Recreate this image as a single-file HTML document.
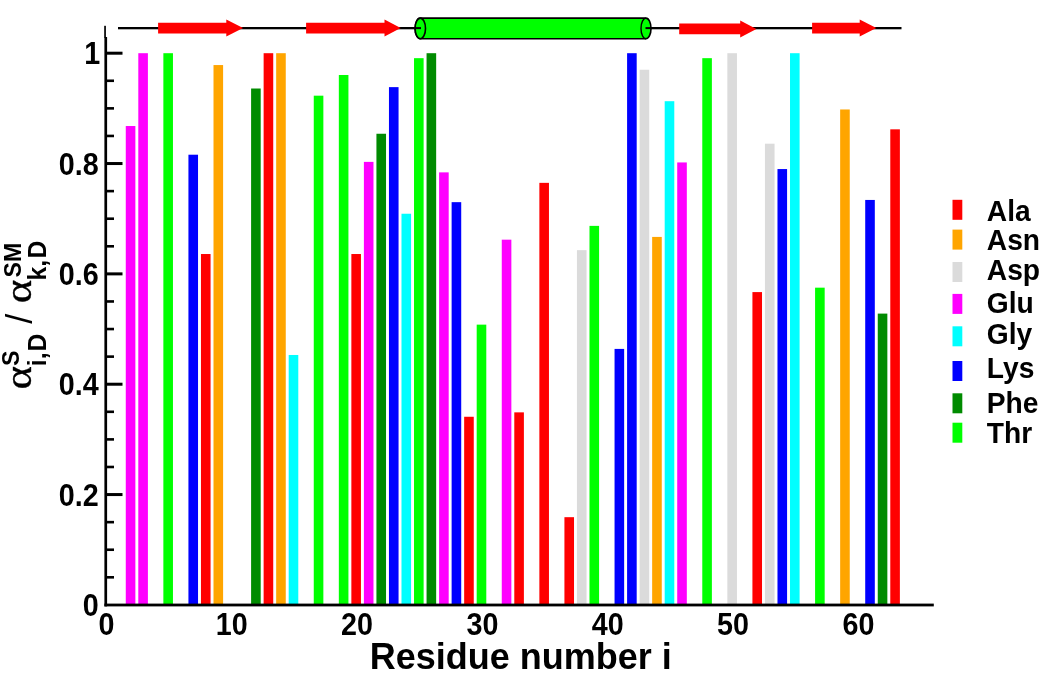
<!DOCTYPE html><html><head><meta charset="utf-8"><title>Residue plot</title>
<style>html,body{margin:0;padding:0;background:#fff}svg{display:block}text{font-family:"Liberation Sans",sans-serif;font-weight:bold;fill:#000}</style></head><body>
<svg width="1049" height="686" viewBox="0 0 1049 686">
<rect width="1049" height="686" fill="#fff"/>
<rect x="125.77" y="126.02" width="9.6" height="478.98" fill="#ff00ff"/>
<rect x="138.30" y="53.20" width="9.6" height="551.80" fill="#ff00ff"/>
<rect x="163.36" y="53.20" width="9.6" height="551.80" fill="#00ff00"/>
<rect x="188.43" y="154.71" width="9.6" height="450.29" fill="#0000ff"/>
<rect x="200.96" y="254.02" width="9.6" height="350.98" fill="#ff0000"/>
<rect x="213.50" y="65.06" width="9.6" height="539.94" fill="#ffa500"/>
<rect x="251.10" y="88.51" width="9.6" height="516.49" fill="#008b00"/>
<rect x="263.63" y="53.20" width="9.6" height="551.80" fill="#ff0000"/>
<rect x="276.16" y="53.20" width="9.6" height="551.80" fill="#ffa500"/>
<rect x="288.69" y="354.98" width="9.6" height="250.02" fill="#00ffff"/>
<rect x="313.76" y="95.68" width="9.6" height="509.32" fill="#00ff00"/>
<rect x="338.83" y="74.99" width="9.6" height="530.01" fill="#00ff00"/>
<rect x="351.36" y="254.02" width="9.6" height="350.98" fill="#ff0000"/>
<rect x="363.89" y="161.88" width="9.6" height="443.12" fill="#ff00ff"/>
<rect x="376.43" y="133.75" width="9.6" height="471.25" fill="#008b00"/>
<rect x="388.96" y="87.13" width="9.6" height="517.87" fill="#0000ff"/>
<rect x="401.49" y="213.74" width="9.6" height="391.26" fill="#00ffff"/>
<rect x="414.02" y="58.17" width="9.6" height="546.83" fill="#00ff00"/>
<rect x="426.56" y="53.20" width="9.6" height="551.80" fill="#008b00"/>
<rect x="439.09" y="172.37" width="9.6" height="432.63" fill="#ff00ff"/>
<rect x="451.62" y="202.16" width="9.6" height="402.84" fill="#0000ff"/>
<rect x="464.16" y="416.77" width="9.6" height="188.23" fill="#ff0000"/>
<rect x="476.69" y="324.64" width="9.6" height="280.36" fill="#00ff00"/>
<rect x="501.76" y="239.67" width="9.6" height="365.33" fill="#ff00ff"/>
<rect x="514.29" y="412.36" width="9.6" height="192.64" fill="#ff0000"/>
<rect x="539.36" y="182.85" width="9.6" height="422.15" fill="#ff0000"/>
<rect x="564.42" y="517.18" width="9.6" height="87.82" fill="#ff0000"/>
<rect x="576.95" y="250.16" width="9.6" height="354.84" fill="#dbdbdb"/>
<rect x="589.49" y="225.88" width="9.6" height="379.12" fill="#00ff00"/>
<rect x="614.55" y="348.91" width="9.6" height="256.09" fill="#0000ff"/>
<rect x="627.09" y="53.20" width="9.6" height="551.80" fill="#0000ff"/>
<rect x="639.62" y="69.75" width="9.6" height="535.25" fill="#dbdbdb"/>
<rect x="652.15" y="236.92" width="9.6" height="368.08" fill="#ffa500"/>
<rect x="664.69" y="101.20" width="9.6" height="503.80" fill="#00ffff"/>
<rect x="677.22" y="162.44" width="9.6" height="442.56" fill="#ff00ff"/>
<rect x="702.28" y="58.17" width="9.6" height="546.83" fill="#00ff00"/>
<rect x="727.35" y="53.20" width="9.6" height="551.80" fill="#dbdbdb"/>
<rect x="752.42" y="292.09" width="9.6" height="312.91" fill="#ff0000"/>
<rect x="764.95" y="143.68" width="9.6" height="461.32" fill="#dbdbdb"/>
<rect x="777.48" y="169.06" width="9.6" height="435.94" fill="#0000ff"/>
<rect x="790.01" y="53.20" width="9.6" height="551.80" fill="#00ffff"/>
<rect x="815.08" y="287.67" width="9.6" height="317.33" fill="#00ff00"/>
<rect x="840.15" y="109.47" width="9.6" height="495.53" fill="#ffa500"/>
<rect x="865.21" y="199.95" width="9.6" height="405.05" fill="#0000ff"/>
<rect x="877.75" y="313.60" width="9.6" height="291.40" fill="#008b00"/>
<rect x="890.28" y="129.33" width="9.6" height="475.67" fill="#ff0000"/>
<rect x="104.4" y="37" width="2.7" height="569.4" fill="#000"/>
<rect x="104.2" y="25.8" width="1.7" height="12" fill="#000"/>
<rect x="104.4" y="603.6" width="829.4" height="2.8" fill="#000"/>
<rect x="106" y="576.01" width="8" height="2.6" fill="#000"/>
<rect x="106" y="548.43" width="8" height="2.6" fill="#000"/>
<rect x="106" y="520.85" width="8" height="2.6" fill="#000"/>
<rect x="106" y="493.06" width="16.5" height="3" fill="#000"/>
<rect x="106" y="465.68" width="8" height="2.6" fill="#000"/>
<rect x="106" y="438.09" width="8" height="2.6" fill="#000"/>
<rect x="106" y="410.50" width="8" height="2.6" fill="#000"/>
<rect x="106" y="382.72" width="16.5" height="3" fill="#000"/>
<rect x="106" y="355.33" width="8" height="2.6" fill="#000"/>
<rect x="106" y="327.75" width="8" height="2.6" fill="#000"/>
<rect x="106" y="300.16" width="8" height="2.6" fill="#000"/>
<rect x="106" y="272.38" width="16.5" height="3" fill="#000"/>
<rect x="106" y="245.00" width="8" height="2.6" fill="#000"/>
<rect x="106" y="217.41" width="8" height="2.6" fill="#000"/>
<rect x="106" y="189.82" width="8" height="2.6" fill="#000"/>
<rect x="106" y="162.04" width="16.5" height="3" fill="#000"/>
<rect x="106" y="134.65" width="8" height="2.6" fill="#000"/>
<rect x="106" y="107.07" width="8" height="2.6" fill="#000"/>
<rect x="106" y="79.48" width="8" height="2.6" fill="#000"/>
<rect x="106" y="51.70" width="16.5" height="3" fill="#000"/>
<text transform="translate(98.6,616.00) scale(0.99,1.10)" font-size="29" text-anchor="end">0</text>
<text transform="translate(98.6,505.66) scale(0.99,1.10)" font-size="29" text-anchor="end">0.2</text>
<text transform="translate(98.6,395.32) scale(0.99,1.10)" font-size="29" text-anchor="end">0.4</text>
<text transform="translate(98.6,284.98) scale(0.99,1.10)" font-size="29" text-anchor="end">0.6</text>
<text transform="translate(98.6,174.64) scale(0.99,1.10)" font-size="29" text-anchor="end">0.8</text>
<text transform="translate(100.2,64.30) scale(0.99,1.10)" font-size="29" text-anchor="end">1</text>
<text transform="translate(106.40,635.0) scale(0.99,1.05)" font-size="29" text-anchor="middle">0</text>
<text transform="translate(231.73,635.0) scale(0.99,1.05)" font-size="29" text-anchor="middle">10</text>
<text transform="translate(357.06,635.0) scale(0.99,1.05)" font-size="29" text-anchor="middle">20</text>
<text transform="translate(482.39,635.0) scale(0.99,1.05)" font-size="29" text-anchor="middle">30</text>
<text transform="translate(607.72,635.0) scale(0.99,1.05)" font-size="29" text-anchor="middle">40</text>
<text transform="translate(733.05,635.0) scale(0.99,1.05)" font-size="29" text-anchor="middle">50</text>
<text transform="translate(858.38,635.0) scale(0.99,1.05)" font-size="29" text-anchor="middle">60</text>
<text transform="translate(520.8,668.9) scale(1,1.03)" font-size="36" text-anchor="middle">Residue number i</text>
<rect x="118" y="27.0" width="783.5" height="2.3" fill="#000"/>
<polygon points="158.1,22.8 226.3,22.8 226.3,19.6 243.1,28.1 226.3,36.6 226.3,33.4 158.1,33.4" fill="#ff0000"/>
<polygon points="306.1,22.8 384.5,22.8 384.5,19.6 400.7,28.1 384.5,36.6 384.5,33.4 306.1,33.4" fill="#ff0000"/>
<polygon points="679.2,23.599999999999998 740.2,23.599999999999998 740.2,20.4 756.4,28.9 740.2,37.4 740.2,34.199999999999996 679.2,34.199999999999996" fill="#ff0000"/>
<polygon points="812.1,22.8 859.7,22.8 859.7,19.6 876.3,28.1 859.7,36.6 859.7,33.4 812.1,33.4" fill="#ff0000"/>
<path d="M420.3,18.1 L646,18.1 A5,10.3 0 0 1 646,38.7 L420.3,38.7 A5.2,10.3 0 0 1 420.3,18.1 Z" fill="#00ff00" stroke="#000" stroke-width="1.6"/>
<ellipse cx="420.3" cy="28.4" rx="5.2" ry="10.3" fill="#00ff00" stroke="#000" stroke-width="1.6"/>
<path d="M646,18.1 A5,10.3 0 0 0 646,38.7" fill="none" stroke="#000" stroke-width="1.4"/>
<rect x="414.5" y="27.1" width="6.5" height="2" fill="#000"/>
<rect x="645.5" y="27.1" width="6" height="2" fill="#000"/>
<rect x="952.5" y="199.8" width="9.8" height="20" fill="#ff0000"/>
<text transform="translate(986.8,220.5) scale(1,1.045)" font-size="28.2">Ala</text>
<rect x="952.5" y="229.6" width="9.8" height="20" fill="#ffa500"/>
<text transform="translate(986.8,249.9) scale(1,1.045)" font-size="28.2">Asn</text>
<rect x="952.5" y="262" width="9.8" height="20" fill="#dbdbdb"/>
<text transform="translate(986.8,279.5) scale(1,1.045)" font-size="28.2">Asp</text>
<rect x="952.5" y="293.9" width="9.8" height="20" fill="#ff00ff"/>
<text transform="translate(986.8,313.3) scale(1,1.045)" font-size="28.2">Glu</text>
<rect x="952.5" y="326.3" width="9.8" height="20" fill="#00ffff"/>
<text transform="translate(986.8,344.1) scale(1,1.045)" font-size="28.2">Gly</text>
<rect x="952.5" y="361" width="9.8" height="20" fill="#0000ff"/>
<text transform="translate(986.8,378.4) scale(1,1.045)" font-size="28.2">Lys</text>
<rect x="952.5" y="393.3" width="9.8" height="20" fill="#008b00"/>
<text transform="translate(986.8,413.1) scale(1,1.045)" font-size="28.2">Phe</text>
<rect x="952.5" y="422.7" width="9.8" height="20" fill="#00ff00"/>
<text transform="translate(986.8,442.7) scale(1,1.045)" font-size="28.2">Thr</text>
<text transform="translate(31.4,389.4) rotate(-90) scale(1.15,1)" font-size="39" style="font-weight:normal;font-family:'Liberation Serif',serif" stroke="#000" stroke-width="0.35">α</text>
<text transform="translate(19.0,365.9) rotate(-90) scale(0.97,1)" font-size="24" >S</text>
<text transform="translate(45.8,366.2) rotate(-90) scale(0.95,1)" font-size="26" >i,<tspan dx="1.1">D</tspan></text>
<text transform="translate(31.5,323.7) rotate(-90) scale(1.0,1)" font-size="36" style="font-weight:normal">/</text>
<text transform="translate(31.4,303.3) rotate(-90) scale(1.15,1)" font-size="39" style="font-weight:normal;font-family:'Liberation Serif',serif" stroke="#000" stroke-width="0.35">α</text>
<text transform="translate(20.7,277.4) rotate(-90) scale(0.96,1)" font-size="24" >SM</text>
<text transform="translate(45.8,280.5) rotate(-90) scale(0.95,1)" font-size="26" >k,<tspan dx="1.4">D</tspan></text>
</svg></body></html>
